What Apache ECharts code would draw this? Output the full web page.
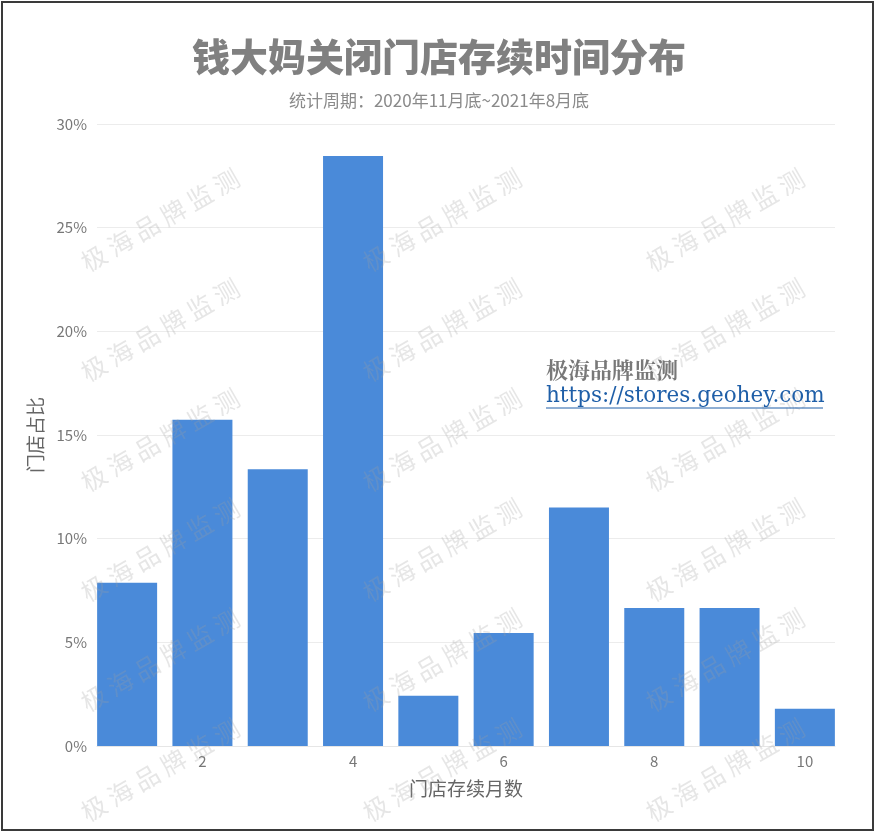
<!DOCTYPE html>
<html>
<head>
<meta charset="utf-8">
<script src="https://cdn.jsdelivr.net/npm/echarts@6/dist/echarts.min.js"></script>
<style>
html,body{margin:0;padding:0;background:#fff;}
#chart{width:878px;height:837px;}
</style>
</head>
<body>
<div id="chart"></div>
<script>
// Data
const months = [1, 2, 3, 4, 5, 6, 7, 8, 9, 10];
const shares = [7.87, 15.73, 13.35, 28.46, 2.42, 5.45, 11.5, 6.66, 6.66, 1.8];
const xTickLabels = [2, 4, 6, 8, 10];
const yTicks = [0, 5, 10, 15, 20, 25, 30];
const titleText = '钱大妈关闭门店存续时间分布';
const subtitleText = '统计周期：2020年11月底~2021年8月底';
const yName = '门店占比';
const xName = '门店存续月数';
const brandText = '极海品牌监测';
const linkText = 'https://stores.geohey.com';
const watermarkText = '极海品牌监测';
const watermarkCols = [160, 442, 725];
const watermarkRows = [220, 330, 440, 550, 660, 770];

const chart = echarts.init(document.getElementById('chart'), null, {renderer: 'canvas'});

const graphics = [];
watermarkCols.forEach(cx => {
  watermarkRows.forEach(cy => {
    graphics.push({
      type: 'text', x: cx, y: cy, rotation: Math.PI / 6, z: 100, silent: true,
      style: {
        text: watermarkText.split('').join(' '), fill: 'rgba(160,160,160,0.26)',
        font: '25px "Noto Sans CJK SC"', align: 'center', verticalAlign: 'middle'
      }
    });
  });
});
graphics.push(
  {type: 'rect', shape: {x: 2, y: 2, width: 871, height: 828}, z: 101, silent: true,
   style: {fill: 'none', stroke: '#3a3a3a', lineWidth: 2}},
  {type: 'text', x: 546, y: 370, z: 102,
   style: {text: brandText, fill: '#787878', font: 'bold 22px "Noto Serif CJK SC", "Noto Sans CJK SC"', verticalAlign: 'middle'}},
  {type: 'text', x: 546, y: 396, z: 102,
   style: {text: linkText, fill: '#1f5fa8', font: '21.5px "DejaVu Serif", "Liberation Serif", serif', verticalAlign: 'middle'}},
  {type: 'line', shape: {x1: 546, y1: 408, x2: 823, y2: 408}, z: 102,
   style: {stroke: '#1f5fa8', lineWidth: 1}}
);

chart.setOption({
  backgroundColor: '#fff',
  animation: false,
  title: {
    text: titleText,
    subtext: subtitleText,
    left: 'center',
    top: 33,
    itemGap: 16,
    textStyle: {fontFamily: 'Noto Sans CJK SC', fontWeight: 900, fontSize: 38, color: '#808080'},
    subtextStyle: {fontFamily: 'Noto Sans CJK SC', fontSize: 17, color: '#8a8a8a'}
  },
  grid: {left: 97, right: 43, top: 124, bottom: 91, containLabel: false},
  xAxis: {
    type: 'value',
    min: 0.6,
    max: 10.4,
    name: xName,
    nameLocation: 'middle',
    nameGap: 33,
    nameTextStyle: {fontFamily: 'Noto Sans CJK SC', fontSize: 19, color: '#666'},
    axisLine: {show: true, lineStyle: {color: '#e6e6e6'}},
    axisTick: {show: false},
    splitLine: {show: false},
    axisLabel: {
      customValues: xTickLabels,
      color: '#777', fontSize: 15, fontFamily: 'Noto Sans CJK SC', margin: 8
    }
  },
  yAxis: {
    type: 'value',
    min: yTicks[0],
    max: yTicks[yTicks.length - 1],
    interval: 5,
    name: yName,
    nameLocation: 'middle',
    nameGap: 47,
    nameRotate: 90,
    nameTextStyle: {fontFamily: 'Noto Sans CJK SC', fontSize: 19, color: '#666'},
    axisLine: {show: false},
    axisTick: {show: false},
    splitLine: {lineStyle: {color: '#ececec', width: 1}},
    axisLabel: {formatter: '{value}%', color: '#777', fontSize: 15, fontFamily: 'Noto Sans CJK SC', margin: 10}
  },
  series: [{
    type: 'bar',
    data: months.map((m, i) => [m, shares[i]]),
    barWidth: 60,
    itemStyle: {color: '#4a8ad9'}
  }],
  graphic: graphics
});
</script>
</body>
</html>
